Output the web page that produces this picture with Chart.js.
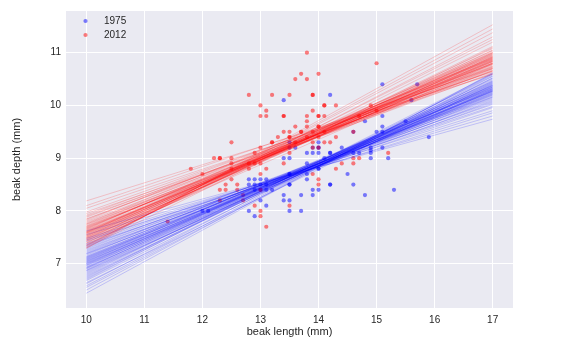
<!DOCTYPE html>
<html>
<head>
<meta charset="utf-8">
<script src="https://cdn.jsdelivr.net/npm/chart.js@4"></script>
<style>
  body { margin: 0; background: #fff; }
  canvas { display: block; }
</style>
</head>
<body>
<canvas id="beak-chart" width="587" height="358"></canvas>
<script>
// beak length / depth, 1975 sample
const bl1975 = [15.1, 15.7, 14.2, 13.4, 15.6, 15.1, 14.8, 15.5, 15.1, 15.0, 15.1, 14.6, 15.9,
  14.0, 13.5, 13.9, 14.0, 14.4, 14.9, 15.1, 13.4, 13.5, 13.8, 13.9, 14.1, 14.2, 14.6, 14.9,
  14.7, 14.9, 15.2, 13.8, 14.0, 14.0, 14.5, 13.8, 13.5, 13.5, 12.8, 12.9, 13.0, 13.1, 13.8,
  12.8, 12.9, 13.0, 13.1, 13.5, 13.5, 14.2, 14.2, 14.6, 12.9, 13.1, 14.0, 13.9, 15.3, 13.2,
  13.4, 13.7, 13.9, 14.8, 13.4, 13.5, 13.0, 13.1, 12.8, 13.5, 13.7, 12.9, 12.0, 12.1,
  13.5, 13.6, 14.0, 14.0, 14.2, 14.9];
const bd1975 = [10.4, 10.4, 10.2, 10.1, 10.1, 9.8, 9.7, 9.7, 9.6, 9.5, 9.5, 9.5, 9.4,
  9.3, 9.3, 9.2, 9.2, 9.2, 9.2, 9.2, 9.0, 9.0, 9.1, 9.1, 9.0, 9.1, 9.1, 9.1,
  9.1, 9.0, 9.0, 8.9, 8.8, 8.8, 8.7, 8.7, 8.7, 8.7, 8.6, 8.6, 8.6, 8.6, 8.6,
  8.5, 8.5, 8.5, 8.5, 8.5, 8.5, 8.5, 8.5, 8.5, 8.4, 8.4, 8.4, 8.4, 8.4, 8.4,
  8.3, 8.3, 8.3, 8.3, 8.2, 8.2, 8.2, 8.1, 8.0, 8.0, 8.0, 7.9, 8.0, 8.0,
  9.2, 9.2, 9.2, 9.1, 9.1, 9.15];

// beak length / depth, 2012 sample
const bl2012 = [13.8, 15.0, 13.7, 14.0, 13.6, 13.8, 12.8, 13.2, 13.5, 13.9, 13.9, 13.0, 14.1,
  14.1, 14.3, 13.1, 13.9, 13.0, 13.1, 13.4, 13.4, 13.8, 14.0, 14.0, 14.1, 13.8, 13.6, 13.8,
  14.0, 14.0, 13.4, 13.5, 13.7, 13.7, 13.9, 14.1, 13.3, 13.5, 13.5, 13.8, 14.0, 14.3, 12.5,
  13.2, 13.2, 13.6, 13.9, 14.1, 14.2, 13.0, 13.9, 14.0, 12.9, 13.5, 12.2, 12.3, 12.3, 12.5,
  12.5, 12.5, 12.8, 12.9, 13.0, 13.4, 14.6, 14.7, 14.6, 15.2, 11.8, 12.8, 13.1, 14.4, 14.3,
  12.0, 13.0, 13.9, 12.5, 14.0, 12.4, 12.6, 14.0, 12.3, 12.4, 13.0, 13.0, 12.7, 12.3, 12.7,
  13.5, 12.9, 13.0, 13.0, 13.1, 11.4, 14.9, 15.0, 14.7, 14.6, 12.6];
const bd2012 = [11.0, 10.8, 10.6, 10.6, 10.5, 10.5, 10.2, 10.2, 10.2, 10.2, 10.2, 10.0, 10.0,
  10.0, 10.0, 9.9, 9.9, 9.8, 9.8, 9.8, 9.8, 9.8, 9.8, 9.8, 9.8, 9.7, 9.6, 9.6,
  9.6, 9.6, 9.5, 9.5, 9.5, 9.5, 9.5, 9.5, 9.4, 9.4, 9.4, 9.4, 9.4, 9.4, 9.3,
  9.3, 9.3, 9.3, 9.3, 9.3, 9.3, 9.2, 9.2, 9.2, 9.1, 9.1, 9.0, 9.0, 9.0, 9.0,
  8.9, 8.8, 8.9, 8.9, 8.9, 8.9, 8.9, 9.0, 9.0, 9.1, 8.8, 8.8, 8.8, 8.9, 8.8,
  8.7, 8.7, 8.7, 8.6, 8.6, 8.5, 8.5, 8.5, 8.4, 8.4, 8.4, 8.4, 8.3, 8.2, 8.2,
  8.1, 8.1, 8.0, 7.9, 7.7, 7.8, 10.0, 9.9, 9.8, 9.5, 8.4];

// bootstrap regression lines, read as depth at length 10 and at length 17
const lineX = [10, 17];
const blueAt10 = [7.04, 6.88, 7.18, 6.96, 7.10, 6.72, 7.30, 7.00, 7.06, 6.62, 7.42, 6.92, 7.14, 6.82, 7.24,
  7.02, 6.50, 7.55, 6.98, 7.08, 6.76, 7.20, 6.90, 7.34, 6.58, 7.12, 6.94, 7.28, 6.68, 7.48,
  7.03, 6.86, 7.16, 6.44, 7.62, 7.05, 6.80, 7.22, 6.97, 7.38, 6.64, 7.09, 6.91, 7.26, 6.74,
  7.01, 7.45, 6.84, 7.13, 6.55, 7.32, 6.99, 7.07, 6.78, 7.19, 6.93, 7.36, 6.70, 7.11, 6.87];
const blueAt17 = [10.30, 10.42, 10.18, 10.36, 10.24, 10.52, 10.08, 10.34, 10.27, 10.58, 9.98, 10.38, 10.22, 10.46, 10.14,
  10.28, 10.60, 9.80, 10.40, 10.20, 10.44, 10.26, 10.32, 10.02, 10.55, 10.16, 10.44, 10.12, 10.48, 9.90,
  10.36, 10.30, 10.32, 10.62, 9.74, 10.22, 10.50, 10.20, 10.26, 10.06, 10.40, 10.34, 10.46, 10.04, 10.56,
  10.24, 9.86, 10.38, 10.28, 10.52, 10.16, 10.30, 10.38, 10.42, 10.10, 10.28, 9.96, 10.60, 10.32, 10.35];
const redAt10 = [7.60, 7.45, 7.75, 7.52, 7.68, 7.38, 7.85, 7.58, 7.64, 7.30, 7.95, 7.50, 7.70, 7.42, 7.80,
  7.55, 7.62, 7.35, 8.05, 7.48, 7.66, 7.72, 7.33, 7.88, 7.57, 7.46, 7.78, 7.59, 7.40, 7.92,
  7.53, 7.69, 7.31, 8.19, 7.61, 7.44, 7.82, 7.50, 7.74, 7.36, 7.98, 7.56, 7.65, 7.47, 7.71,
  7.39, 7.84, 7.54, 7.63, 7.29, 8.10, 7.58, 7.49, 7.76, 7.43, 7.67, 7.34, 7.90, 7.60, 7.52];
const redAt17 = [10.85, 10.98, 10.72, 10.90, 10.80, 11.05, 10.66, 10.88, 10.83, 11.10, 10.60, 10.95, 10.76, 11.02, 10.70,
  10.92, 10.78, 11.20, 10.64, 10.86, 10.94, 10.84, 11.30, 10.74, 10.81, 11.08, 10.62, 10.97, 10.93, 10.78,
  10.83, 10.70, 11.45, 10.59, 10.89, 10.79, 10.88, 11.00, 10.68, 11.12, 10.72, 10.86, 11.00, 10.91, 10.66,
  11.25, 10.80, 10.96, 10.74, 11.53, 10.70, 10.92, 10.84, 10.90, 10.99, 10.87, 11.38, 10.65, 10.80, 11.04];

const xTicks = [10, 11, 12, 13, 14, 15, 16, 17];
const yTicks = [7, 8, 9, 10, 11];

const toPoints = (xs, ys) => xs.map((x, i) => ({x: x, y: ys[i]}));

const lineSets = [];
for (let i = 0; i < blueAt10.length; i++) {
  lineSets.push({
    data: [{x: lineX[0], y: blueAt10[i]}, {x: lineX[1], y: blueAt17[i]}],
    showLine: true, borderColor: 'rgba(0,0,255,0.27)', borderWidth: 0.7, pointRadius: 0, fill: false
  });
  lineSets.push({
    data: [{x: lineX[0], y: redAt10[i]}, {x: lineX[1], y: redAt17[i]}],
    showLine: true, borderColor: 'rgba(255,0,0,0.27)', borderWidth: 0.7, pointRadius: 0, fill: false
  });
}
// chart.js paints dataset 0 last, so the lines go first in the list
lineSets.reverse();

const pointStyle = (c) => ({
  pointRadius: 2.1, pointBackgroundColor: c, pointBorderWidth: 0, borderColor: c, showLine: false
});

const plotBg = {
  id: 'plotBg',
  beforeDraw(chart) {
    const {ctx, chartArea: a} = chart;
    ctx.save();
    ctx.fillStyle = '#eaeaf2';
    ctx.fillRect(a.left, a.top, a.right - a.left, a.bottom - a.top);
    ctx.restore();
  },
  afterDraw(chart) {
    // legend in the upper left corner of the plot
    const ctx = chart.ctx;
    const items = [['1975', 'rgba(0,0,255,0.5)'], ['2012', 'rgba(255,0,0,0.5)']];
    ctx.save();
    ctx.font = '10px "Liberation Sans", Arial, sans-serif';
    ctx.textBaseline = 'middle';
    items.forEach((it, i) => {
      const y = 21 + i * 14;
      ctx.fillStyle = it[1];
      ctx.beginPath();
      ctx.arc(85.5, y, 2.1, 0, Math.PI * 2);
      ctx.fill();
      ctx.fillStyle = '#262626';
      ctx.fillText(it[0], 104, y);
    });
    ctx.restore();
  }
};

const tickFont = {family: '"Liberation Sans", Arial, sans-serif', size: 10};
const titleFont = {family: '"Liberation Sans", Arial, sans-serif', size: 11};

new Chart(document.getElementById('beak-chart'), {
  type: 'scatter',
  plugins: [plotBg],
  data: {
    datasets: lineSets.concat([
      Object.assign({label: '2012', data: toPoints(bl2012, bd2012)}, pointStyle('rgba(255,0,0,0.5)')),
      Object.assign({label: '1975', data: toPoints(bl1975, bd1975)}, pointStyle('rgba(0,0,255,0.5)'))
    ])
  },
  options: {
    responsive: false,
    animation: false,
    devicePixelRatio: 1,
    layout: {padding: {left: 0, top: 8, right: 74, bottom: 0}},
    plugins: {legend: {display: false}, tooltip: {enabled: false}},
    scales: {
      x: {
        type: 'linear', min: 9.65, max: 17.35,
        afterBuildTicks: (s) => { s.ticks = xTicks.map(v => ({value: v})); },
        afterFit: (s) => { s.height = 50; },
        grid: {color: '#ffffff', lineWidth: 1, drawTicks: false},
        border: {display: false},
        ticks: {font: tickFont, color: '#262626', padding: 6},
        title: {display: true, text: 'beak length (mm)', font: titleFont, color: '#262626', padding: {top: 0, bottom: 19}}
      },
      y: {
        type: 'linear', min: 6.16, max: 11.79,
        afterBuildTicks: (s) => { s.ticks = yTicks.map(v => ({value: v})); },
        afterFit: (s) => { s.width = 66; },
        grid: {color: '#ffffff', lineWidth: 1, drawTicks: false},
        border: {display: false},
        ticks: {font: tickFont, color: '#262626', padding: 5},
        title: {display: true, text: 'beak depth (mm)', font: titleFont, color: '#262626', padding: {top: 10, bottom: 0}}
      }
    }
  }
});
</script>
</body>
</html>
